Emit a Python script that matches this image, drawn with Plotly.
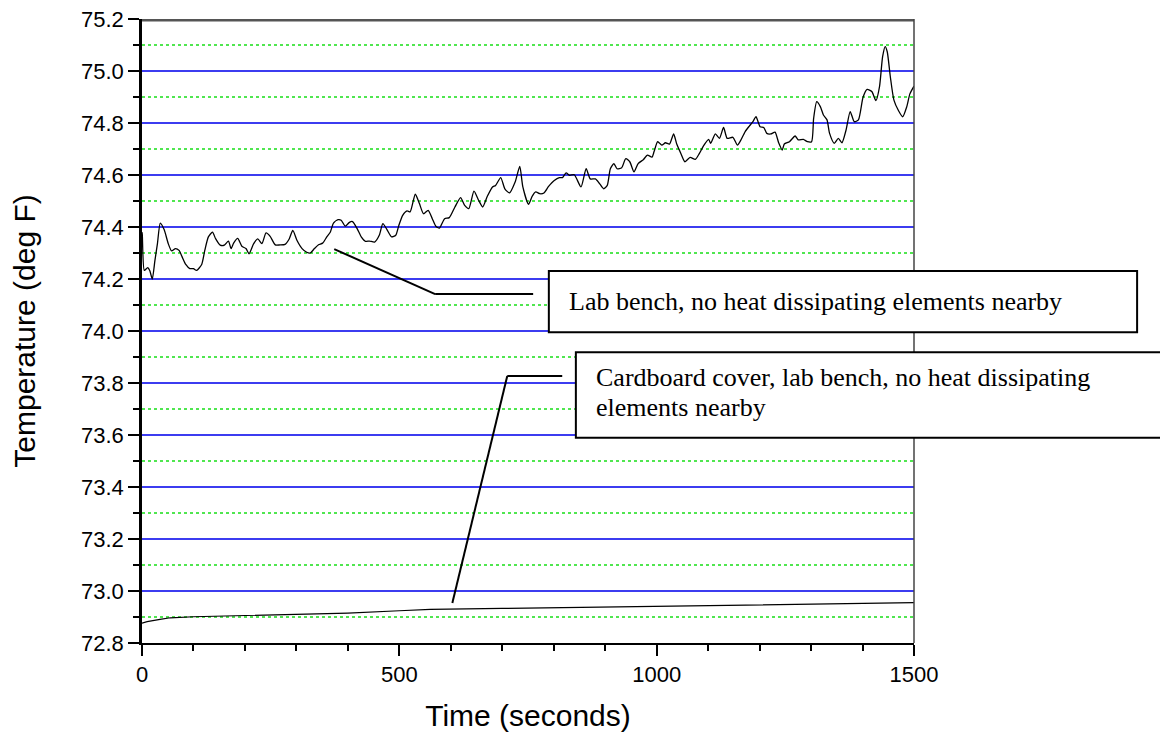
import plotly.graph_objects as go

# Series 1: lab bench, no heat dissipating elements nearby
t1 = [0, 0.6, 4.5, 11, 15, 20, 25, 30, 35.5, 43, 51, 57.5, 65, 72, 78, 85, 93, 100, 106, 116,
      122, 129, 137, 143, 152, 160, 168, 173, 178, 186, 194, 202, 208, 217, 225, 233, 241, 249,
      259, 268, 278, 286, 293, 301, 311, 320, 327, 335, 343, 351, 359, 366, 372, 381, 387, 395,
      403, 409, 418, 426, 434, 442, 452, 461, 468, 476, 485, 493, 499, 506.5, 515, 521, 531,
      539, 547, 556, 564, 571, 578, 588, 597, 608, 619, 627, 635, 645, 654, 662, 671, 681, 687,
      697, 705, 714, 725, 734, 740, 751, 758, 765, 773, 781, 790, 801, 811, 817, 824, 831, 840,
      853, 863, 871, 881, 889, 897, 904, 910, 917, 923, 932, 940, 948, 956, 964, 974, 982, 991,
      995, 1002, 1010, 1017, 1025, 1033, 1039, 1047, 1055, 1065, 1075, 1083, 1091, 1101, 1105,
      1114, 1122, 1130, 1137, 1148, 1157, 1163, 1172, 1180, 1187, 1193, 1201, 1208, 1214, 1222,
      1230, 1237, 1244, 1248, 1258, 1269, 1275, 1285, 1293, 1301, 1305, 1311, 1318, 1324, 1331,
      1336, 1345, 1353, 1360, 1368, 1376, 1384, 1392, 1401, 1409, 1418, 1426, 1433, 1439, 1444,
      1448, 1454, 1461, 1470, 1478, 1486, 1492, 1500]
v1 = [74.38, 74.37, 74.233, 74.244, 74.233, 74.20, 74.27, 74.336, 74.415, 74.39, 74.336, 74.308,
      74.317, 74.31, 74.285, 74.256, 74.24, 74.24, 74.233, 74.256, 74.31, 74.362, 74.38, 74.355,
      74.33, 74.33, 74.346, 74.317, 74.338, 74.356, 74.326, 74.317, 74.297, 74.336, 74.354,
      74.336, 74.377, 74.364, 74.331, 74.331, 74.333, 74.354, 74.387, 74.349, 74.317, 74.303,
      74.30, 74.317, 74.332, 74.338, 74.362, 74.381, 74.415, 74.428, 74.426, 74.403, 74.418,
      74.421, 74.394, 74.362, 74.345, 74.346, 74.342, 74.368, 74.413, 74.39, 74.362, 74.368,
      74.406, 74.445, 74.462, 74.458, 74.526, 74.49, 74.451, 74.464, 74.432, 74.403, 74.396,
      74.432, 74.436, 74.477, 74.513, 74.483, 74.471, 74.538, 74.503, 74.477, 74.518, 74.554,
      74.56, 74.59, 74.547, 74.531, 74.573, 74.633, 74.554, 74.487, 74.518, 74.535, 74.528,
      74.531, 74.556, 74.579, 74.59, 74.59, 74.608, 74.599, 74.601, 74.554, 74.624, 74.585,
      74.585, 74.567, 74.547, 74.56, 74.624, 74.644, 74.624, 74.628, 74.663, 74.65, 74.612,
      74.644, 74.659, 74.676, 74.669, 74.69, 74.728, 74.715, 74.724, 74.719, 74.758, 74.719,
      74.683, 74.651, 74.668, 74.66, 74.683, 74.712, 74.737, 74.722, 74.758, 74.741, 74.783,
      74.741, 74.745, 74.715, 74.732, 74.767, 74.788, 74.805, 74.824, 74.786, 74.783, 74.76,
      74.758, 74.765, 74.724, 74.696, 74.719, 74.728, 74.75, 74.735, 74.737, 74.728, 74.728,
      74.818, 74.882, 74.863, 74.831, 74.812, 74.76, 74.722, 74.741, 74.724, 74.773, 74.844,
      74.805, 74.812, 74.899, 74.929, 74.921, 74.886, 74.94, 75.055, 75.094, 75.074, 74.978,
      74.888, 74.847, 74.824, 74.863, 74.912, 74.942]

# Series 2: cardboard cover, lab bench
t2 = [0, 10, 35, 55, 100, 197, 300, 400, 500, 560, 700, 850, 1000, 1150, 1300, 1500]
v2 = [72.876, 72.882, 72.891, 72.897, 72.901, 72.905, 72.909, 72.915, 72.924, 72.929, 72.933,
      72.937, 72.941, 72.945, 72.949, 72.955]

x_ticks = [0, 500, 1000, 1500]
y_ticks = [72.8, 73.0, 73.2, 73.4, 73.6, 73.8, 74.0, 74.2, 74.4, 74.6, 74.8, 75.0, 75.2]

label1 = "Lab bench, no heat dissipating elements nearby"
label2_line1 = "Cardboard cover, lab bench, no heat dissipating"
label2_line2 = "elements nearby"

# leader line vertices (data coordinates)
lead1_x = [373.5, 569.6, 760]
lead1_y = [74.315, 74.142, 74.142]
lead2_x = [603, 709.7, 816.5]
lead2_y = [72.954, 73.827, 73.827]

fig = go.Figure()
fig.add_trace(go.Scatter(x=t2, y=v2, mode="lines", line=dict(color="black", width=1.2),
                         showlegend=False, hoverinfo="skip"))
fig.add_trace(go.Scatter(x=t1, y=v1, mode="lines", line=dict(color="black", width=1.3, shape="spline", smoothing=0.6),
                         showlegend=False, hoverinfo="skip"))

shapes = []
for lx, ly in [(lead1_x, lead1_y), (lead2_x, lead2_y)]:
    for i in range(len(lx) - 1):
        shapes.append(dict(type="line", xref="x", yref="y", x0=lx[i], y0=ly[i], x1=lx[i + 1], y1=ly[i + 1],
                           line=dict(color="black", width=2), layer="above"))
# top and right frame
shapes.append(dict(type="line", xref="paper", yref="paper", x0=0, x1=1, y0=0.998, y1=0.998,
                   line=dict(color="#555555", width=2.5), layer="above"))
shapes.append(dict(type="line", xref="paper", yref="paper", x0=1, x1=1, y0=0, y1=1,
                   line=dict(color="#444444", width=1.5), layer="above"))
# annotation boxes
shapes.append(dict(type="rect", xref="paper", yref="paper", x0=0.527, x1=1.289, y0=0.498, y1=0.596,
                   fillcolor="white", line=dict(color="black", width=2), layer="above"))
shapes.append(dict(type="rect", xref="paper", yref="paper", x0=0.562, x1=1.322, y0=0.329, y1=0.466,
                   fillcolor="white", line=dict(color="black", width=2), layer="above"))

serif = dict(family="Liberation Serif, Times New Roman, serif", size=26, color="black")
annotations = [
    dict(text=label1, xref="paper", yref="paper", x=0.5507, y=0.548, xanchor="left", yanchor="middle",
         showarrow=False, font=serif),
    dict(text=label2_line1, xref="paper", yref="paper", x=0.5857, y=0.425, xanchor="left", yanchor="middle",
         showarrow=False, font=serif),
    dict(text=label2_line2, xref="paper", yref="paper", x=0.5857, y=0.377, xanchor="left", yanchor="middle",
         showarrow=False, font=serif),
]

sans = "Liberation Sans, Arial, sans-serif"
fig.update_layout(
    width=1160, height=732,
    margin=dict(l=134, r=254, t=11, b=97, autoexpand=False),
    paper_bgcolor="white", plot_bgcolor="white",
    shapes=shapes, annotations=annotations,
    xaxis=dict(range=[0, 1500], tickvals=x_ticks, ticks="outside", ticklen=11, tickwidth=2, automargin=False,
               tickcolor="black", showline=True, linecolor="black", linewidth=2, showgrid=False,
               zeroline=False, tickfont=dict(family=sans, size=22, color="black"), ticklabeloverflow="allow",
               minor=dict(dtick=100, ticks="outside", ticklen=6, tickwidth=2, tickcolor="black", showgrid=False),
               title=dict(text="Time (seconds)", font=dict(family=sans, size=30, color="black"), standoff=19)),
    yaxis=dict(range=[72.8, 75.2], tickvals=y_ticks, tickformat=".1f", ticks="outside", ticklen=11,
               tickwidth=2, tickcolor="black", showline=True, linecolor="black", linewidth=2.5, automargin=False,
               showgrid=True, gridcolor="rgb(60,60,240)", gridwidth=1.5, zeroline=False,
               tickfont=dict(family=sans, size=22, color="black"), ticklabeloverflow="allow",
               minor=dict(dtick=0.1, ticks="outside", ticklen=6, tickwidth=2, tickcolor="black",
                          showgrid=True, gridcolor="rgb(80,230,80)", griddash="dot", gridwidth=1.5),
               title=dict(text="Temperature (deg F)", font=dict(family=sans, size=30, color="black"), standoff=46)),
)

fig.write_html("out.html")
